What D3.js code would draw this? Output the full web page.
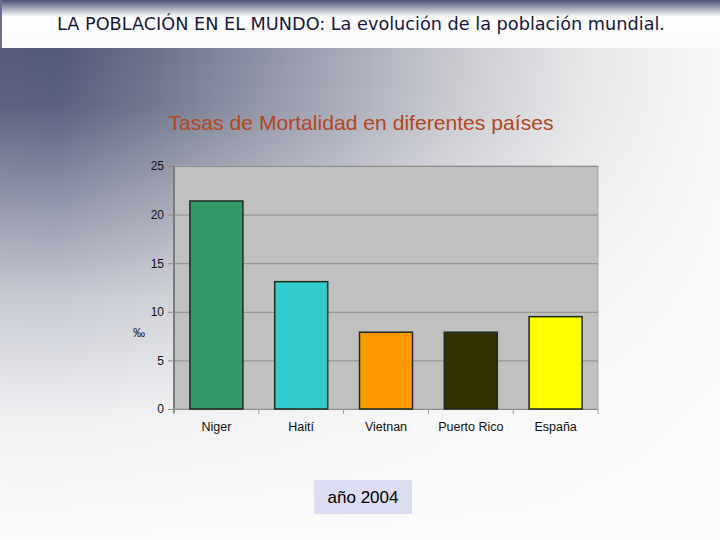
<!DOCTYPE html>
<html><head><meta charset="utf-8">
<script src="https://cdn.jsdelivr.net/npm/d3@7"></script>
<style>html,body{margin:0;padding:0;overflow:hidden;background:#fff}</style>
</head><body>
<script>
const categories = ["Niger", "Haití", "Vietnan", "Puerto Rico", "España"];
const values = [21.4, 13.1, 7.9, 7.9, 9.5];
const colors = ["#339966", "#33cccc", "#ff9900", "#333300", "#ffff00"];
const yTicks = [0, 5, 10, 15, 20, 25];
const pageTitle = "LA POBLACIÓN EN EL MUNDO: La evolución de la población mundial.";
const chartTitle = "Tasas de Mortalidad en diferentes países";
const yLabel = "‰";
const yearLabel = "año 2004";

const W = 720, H = 540;
const svg = d3.select("body").append("svg").attr("width", W).attr("height", H);
const defs = svg.append("defs");

// background: horizontal dark-to-light, faded to white downward
const hg = defs.append("linearGradient").attr("id", "hg").attr("x1", 0).attr("y1", 0).attr("x2", 1).attr("y2", 0);
[[0, "#565c7a"], [0.08, "#535a7a"], [0.2, "#6a7088"], [0.42, "#9a9daf"], [0.62, "#c6c7ce"], [0.82, "#e8e8ea"], [1, "#f7f7f7"]]
  .forEach(([o, c]) => hg.append("stop").attr("offset", o).attr("stop-color", c));
svg.append("rect").attr("width", W).attr("height", H).attr("fill", "url(#hg)");
const vg = defs.append("linearGradient").attr("id", "vg").attr("gradientUnits", "userSpaceOnUse")
  .attr("x1", 0).attr("y1", 48).attr("x2", 0).attr("y2", 540);
[[0, 0], [0.12, 0.05], [0.3, 0.35], [0.5, 0.68], [0.75, 0.93], [1, 1]]
  .forEach(([o, a]) => vg.append("stop").attr("offset", o).attr("stop-color", "#fbfbfb").attr("stop-opacity", a));
svg.append("rect").attr("width", W).attr("height", H).attr("fill", "url(#vg)");

// banner
const bn = defs.append("linearGradient").attr("id", "bn").attr("x1", 0).attr("y1", 0).attr("x2", 0).attr("y2", 1);
bn.append("stop").attr("offset", 0).attr("stop-color", "#4b5272");
bn.append("stop").attr("offset", 0.35).attr("stop-color", "#ffffff");
bn.append("stop").attr("offset", 1).attr("stop-color", "#fafafa");
svg.append("rect").attr("x", 0).attr("y", 0).attr("width", W).attr("height", 48).attr("fill", "url(#bn)");
svg.append("rect").attr("x", 0).attr("y", 0).attr("width", 2).attr("height", 48).attr("fill", "#6a7090");
svg.append("text").attr("x", 361).attr("y", 30).attr("text-anchor", "middle")
  .attr("font-family", "DejaVu Sans Condensed, DejaVu Sans").attr("font-size", 17.5).attr("fill", "#16163e")
  .attr("textLength", 608).attr("lengthAdjust", "spacingAndGlyphs")
  .text(pageTitle);

// chart
const m = {left: 174, right: 598, top: 166, bottom: 409};
const x = d3.scaleBand().domain(categories).range([m.left, m.right]).paddingInner(0.375).paddingOuter(0.1875);
const y = d3.scaleLinear().domain([0, 25]).range([m.bottom, m.top]);

svg.append("text").attr("x", 361).attr("y", 130).attr("text-anchor", "middle")
  .attr("font-family", "Liberation Sans, Arial").attr("font-size", 21).attr("fill", "#b3461c")
  .attr("textLength", 385).attr("lengthAdjust", "spacingAndGlyphs")
  .text(chartTitle);

svg.append("rect").attr("x", m.left).attr("y", m.top).attr("width", m.right - m.left).attr("height", m.bottom - m.top)
  .attr("fill", "#c0c0c0").attr("stroke", "#a8a8a8").attr("stroke-width", 1);

svg.append("g").selectAll("line").data(yTicks.filter(d => d > 0)).join("line")
  .attr("x1", m.left).attr("x2", m.right).attr("y1", d => y(d) + 0.5).attr("y2", d => y(d) + 0.5)
  .attr("stroke", "#8c8c8c").attr("stroke-width", 1);

// y axis
const yAxis = svg.append("g").attr("transform", `translate(${m.left},0)`)
  .call(d3.axisLeft(y).tickValues(yTicks).tickSize(6).tickPadding(4).tickFormat(d3.format("d")));
yAxis.select(".domain").attr("stroke", "#7c7c7c").attr("stroke-width", 2).attr("d", `M0,${m.top}V${m.bottom + 4}`);
yAxis.selectAll(".tick line").attr("stroke", "#8c8c8c");
yAxis.selectAll(".tick text").attr("font-family", "Liberation Sans, Arial").attr("font-size", 12).attr("fill", "#111");

// x axis baseline and separators
svg.append("line").attr("x1", m.left - 6).attr("x2", m.right).attr("y1", m.bottom + 0.5).attr("y2", m.bottom + 0.5)
  .attr("stroke", "#8c8c8c");
const step = x.step();
svg.append("g").selectAll("line").data(d3.range(categories.length + 1)).join("line")
  .attr("x1", i => m.left + i * step).attr("x2", i => m.left + i * step)
  .attr("y1", m.bottom).attr("y2", m.bottom + 5).attr("stroke", "#9a9a9a");

svg.append("g").selectAll("rect").data(categories).join("rect")
  .attr("x", d => x(d)).attr("width", x.bandwidth())
  .attr("y", (d, i) => y(values[i])).attr("height", (d, i) => y(0) - y(values[i]))
  .attr("fill", (d, i) => colors[i]).attr("stroke", "#1e2a1e").attr("stroke-width", 1.5);

svg.append("g").selectAll("text").data(categories).join("text")
  .attr("x", d => x(d) + x.bandwidth() / 2).attr("y", 431).attr("text-anchor", "middle")
  .attr("font-family", "Liberation Sans, Arial").attr("font-size", 12.5).attr("fill", "#111")
  .text(d => d);

svg.append("text").attr("x", 139).attr("y", 337).attr("text-anchor", "middle")
  .attr("font-family", "Liberation Sans, Arial").attr("font-size", 12).attr("fill", "#222")
  .text(yLabel);

// year box
svg.append("rect").attr("x", 314).attr("y", 480).attr("width", 98).attr("height", 34).attr("fill", "#dcdcf2");
svg.append("text").attr("x", 363).attr("y", 503).attr("text-anchor", "middle")
  .attr("font-family", "Liberation Sans, Arial").attr("font-size", 17).attr("fill", "#000")
  .text(yearLabel);
</script>
</body></html>
